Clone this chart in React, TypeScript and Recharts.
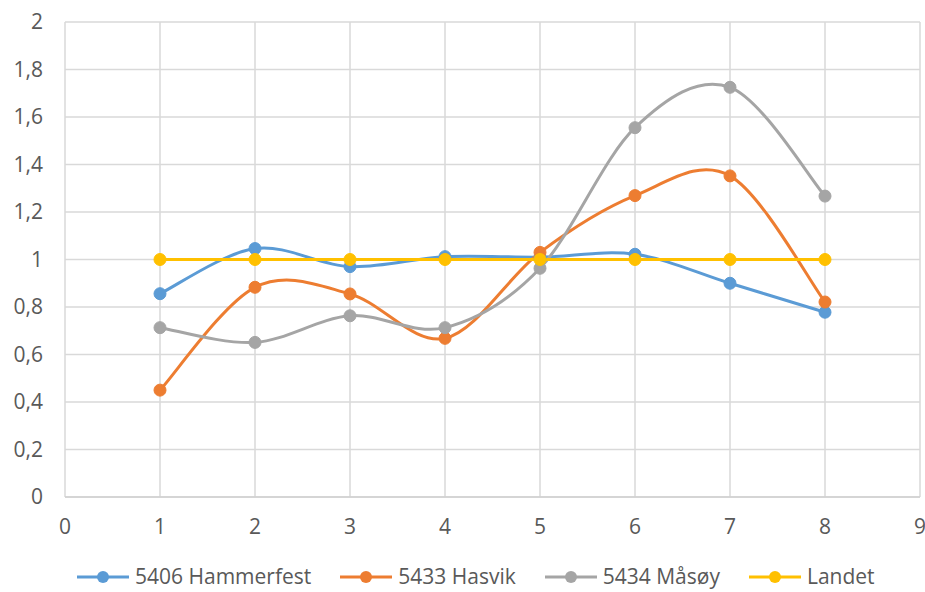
import { CartesianGrid, Line, LineChart, XAxis, YAxis } from 'recharts'

const xValues = [1, 2, 3, 4, 5, 6, 7, 8]
const hammerfest = [0.856, 1.046, 0.97, 1.012, 1.01, 1.022, 0.9, 0.778]
const hasvik = [0.45, 0.883, 0.855, 0.668, 1.03, 1.269, 1.352, 0.821]
const masoy = [0.713, 0.651, 0.763, 0.713, 0.963, 1.555, 1.725, 1.267]
const landet = [1, 1, 1, 1, 1, 1, 1, 1]

const xTicks = [0, 1, 2, 3, 4, 5, 6, 7, 8, 9]
const yTicks = [0, 0.2, 0.4, 0.6, 0.8, 1, 1.2, 1.4, 1.6, 1.8, 2]

const series = [
  { key: 'hammerfest', name: '5406 Hammerfest', color: '#5B9BD5' },
  { key: 'hasvik', name: '5433 Hasvik', color: '#ED7D31' },
  { key: 'masoy', name: '5434 Måsøy', color: '#A5A5A5' },
  { key: 'landet', name: 'Landet', color: '#FFC000' },
]

const data = xValues.map((x, i) => ({
  x,
  hammerfest: hammerfest[i],
  hasvik: hasvik[i],
  masoy: masoy[i],
  landet: landet[i],
}))

// Excel-style smoothed line (uniform Catmull-Rom as cubic beziers)
function excelSmooth(context: any) {
  let pts: number[][] = []
  return {
    areaStart() {},
    areaEnd() {},
    lineStart() {
      pts = []
    },
    point(x: number, y: number) {
      pts.push([+x, +y])
    },
    lineEnd() {
      if (!pts.length) return
      context.moveTo(pts[0][0], pts[0][1])
      for (let i = 0; i < pts.length - 1; i++) {
        const p0 = pts[i - 1] || pts[i]
        const p1 = pts[i]
        const p2 = pts[i + 1]
        const p3 = pts[i + 2] || p2
        context.bezierCurveTo(
          p1[0] + (p2[0] - p0[0]) / 6,
          p1[1] + (p2[1] - p0[1]) / 6,
          p2[0] - (p3[0] - p1[0]) / 6,
          p2[1] - (p3[1] - p1[1]) / 6,
          p2[0],
          p2[1],
        )
      }
    },
  }
}

const font = '"Open Sans", sans-serif'
const textColor = '#595959'

export default function App() {
  return (
    <div style={{ position: 'fixed', left: 0, top: 0, width: 925, height: 592, background: '#fff', fontFamily: font }}>
      <LineChart width={925} height={592} data={data} margin={{ top: 22, right: 5, bottom: 65, left: 0 }}>
        <CartesianGrid stroke="#d9d9d9" strokeWidth={1.5} />
        <XAxis
          type="number"
          dataKey="x"
          domain={[0, 9]}
          ticks={xTicks}
          interval={0}
          height={30}
          tickLine={false}
          tickSize={0}
          tickMargin={22}
          axisLine={{ stroke: '#d0d0d0', strokeWidth: 1.5 }}
          tick={{ fill: textColor, fontSize: 21, fontFamily: font }}
        />
        <YAxis
          type="number"
          domain={[0, 2]}
          ticks={yTicks}
          interval={0}
          width={65}
          tickLine={false}
          axisLine={false}
          tickSize={0}
          tickMargin={22}
          tick={{ fill: textColor, fontSize: 21, fontFamily: font }}
          tickFormatter={(v: number) => String(v).replace('.', ',')}
        />
        {series.map((s) => (
          <Line
            key={s.key}
            dataKey={s.key}
            name={s.name}
            type={excelSmooth as any}
            stroke={s.color}
            strokeWidth={3}
            dot={{ r: 6, fill: s.color, stroke: s.color, strokeWidth: 1 }}
            activeDot={false}
            isAnimationActive={false}
          />
        ))}
      </LineChart>
      <div
        style={{
          position: 'absolute',
          left: 77,
          top: 562,
          display: 'flex',
          alignItems: 'center',
          gap: 29,
          fontSize: 21,
          color: textColor,
          lineHeight: '29px',
        }}
      >
        {series.map((s) => (
          <div key={s.key} style={{ display: 'flex', alignItems: 'center', gap: 6 }}>
            <svg width={52} height={16}>
              <line x1={0} y1={8} x2={52} y2={8} stroke={s.color} strokeWidth={3} />
              <circle cx={26} cy={8} r={6} fill={s.color} />
            </svg>
            <span>{s.name}</span>
          </div>
        ))}
      </div>
    </div>
  )
}
